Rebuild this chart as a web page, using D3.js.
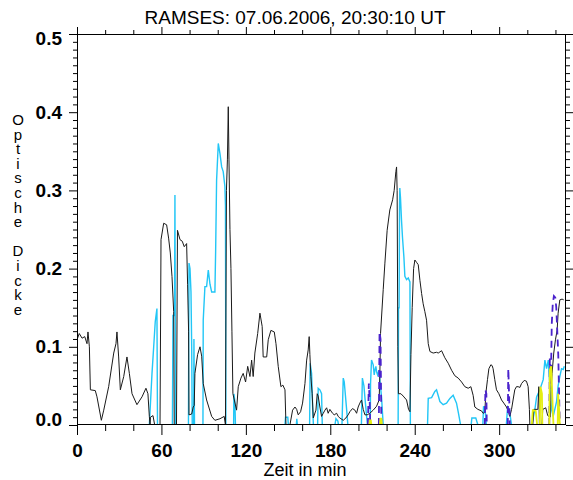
<!DOCTYPE html>
<html>
<head>
<meta charset="utf-8">
<script src="https://cdn.jsdelivr.net/npm/d3@7"></script>
<style>
  html, body { margin: 0; padding: 0; background: #fff; }
  svg { display: block; }
  text { font-family: "Liberation Sans", Arial, sans-serif; fill: #000; }
</style>
</head>
<body>
<svg id="chart" width="573" height="480"></svg>
<script>
// RAMSES optical depth, 07.06.2006 — time in minutes after 20:30:10 UT
const titleText = "RAMSES: 07.06.2006, 20:30:10 UT";
const xLabelText = "Zeit in min";
const yLabelText = "Optische Dicke";
const xMajorTicks = [0, 60, 120, 180, 240, 300];
const yMajorTicks = [0.0, 0.1, 0.2, 0.3, 0.4, 0.5];
const xDomain = [0, 347.5];
const yDomain = [0, 0.5];

// main channel [minute, optical depth]
const seriesBlack = [
  [0,0.109],[1.6,0.117],[3.6,0.111],[5.5,0.113],[7.1,0.104],[7.8,0.119],[8.8,0.100],[9.5,0.045],
  [13.0,0.044],[14.2,0.036],[17.3,0.006],[19.0,0.019],[22.5,0.049],[26.1,0.092],[27.7,0.104],
  [28.4,0.119],[29.6,0.087],[30.8,0.045],[33.2,0.062],[35.5,0.087],[37.2,0.066],[39.1,0.040],
  [42.6,0.026],[46.2,0.036],[49.0,0.047],[50.4,0.040],[51.4,0.011],[51.9,0],[52.2,0.010],
  [54.0,0.012],[55.2,0],[59.0,0],[59.7,0.237],[61.6,0.258],[63.7,0.256],[65.1,0.239],[66.3,0.220],
  [67.5,0.190],[68.7,0.145],[69.1,0],[70.7,0],[71.4,0.249],[73.2,0.237],[74.8,0.235],[76.2,0.228],
  [77.9,0.232],[78.6,0.180],[79.3,0.120],[79.6,0.013],[81.5,0.014],[82.6,0.023],[83.3,0.025],
  [83.8,0.066],[85.7,0.090],[87.4,0.100],[88.6,0.088],[89.7,0.053],[92.1,0.032],[95.7,0.011],
  [98.0,0.006],[101.6,0.008],[104.6,0.011],[105.5,0],[106.2,0.300],[106.9,0.340],[107.5,0.407],
  [108.0,0.340],[108.7,0.250],[109.4,0.200],[110.1,0.120],[110.8,0.040],[113.4,0.019],[114.6,0.049],
  [116.5,0.060],[118.1,0.066],[119.8,0.055],[121.3,0.075],[122.9,0.062],[124.1,0.083],[125.2,0.062],
  [126.4,0.092],[128.4,0.117],[130.0,0.143],[131.6,0.126],[132.3,0.087],[134.8,0.087],[135.9,0.109],
  [137.8,0.121],[140.2,0.119],[141.4,0.104],[143.0,0.075],[144.9,0.049],[146.3,0.051],[147.8,0.045],
  [148.5,0],[151.3,0],[153.2,0.019],[154.9,0.023],[156.1,0.020],[157.2,0.013],[158.9,0.017],
  [160.3,0.028],[162.0,0.053],[163.2,0.083],[164.3,0.096],[165.0,0.113],[165.5,0.090],[166.2,0.062],
  [167.1,0.040],[167.9,0.009],[169.8,0.019],[170.7,0.040],[171.4,0.037],[172.6,0.023],[173.8,0.011],
  [175.0,0.015],[176.2,0.019],[177.4,0.022],[178.5,0.015],[179.7,0.020],[181.6,0.015],[182.8,0.013],
  [184.5,0.015],[185.6,0.011],[186.8,0.009],[189.2,0.006],[191.1,0.009],[192.7,0.013],[193.9,0.017],
  [195.8,0.021],[197.5,0.019],[198.7,0.015],[199.8,0.023],[201.0,0.028],[202.2,0.032],[203.4,0.020],
  [204.6,0.013],[206.2,0.013],[208.1,0.015],[210.5,0.019],[212.9,0.024],[214.7,0.032],[215.2,0.062],
  [215.7,0.117],[217.6,0.173],[218.8,0.207],[220.4,0.249],[222.3,0.275],[224.3,0.288],[225.4,0.300],
  [226.6,0.324],[227.1,0.330],[227.5,0.300],[228.0,0.100],[228.4,0.040],[230.2,0.040],[231.8,0.037],
  [234.2,0.032],[235.6,0.020],[236.6,0.017],[237.3,0.090],[238.2,0.150],[239.2,0.200],[240.1,0.211],
  [241.3,0.208],[242.5,0.205],[243.7,0.185],[244.9,0.168],[246.0,0.155],[247.2,0.145],[248.4,0.134],
  [249.6,0.104],[250.8,0.094],[253.1,0.092],[255.5,0.093],[256.7,0.092],[259.1,0.095],[261.4,0.086],
  [263.8,0.079],[266.2,0.070],[268.5,0.063],[270.9,0.060],[273.3,0.055],[275.6,0.049],[278.0,0.047],
  [279.9,0.049],[281.5,0.038],[282.7,0.023],[284.9,0.020],[287.5,0.018],[288.6,0.015],[289.8,0.016],
  [290.5,0.040],[291.7,0.058],[292.7,0.072],[294.1,0.077],[295.0,0.076],[295.7,0.072],[296.9,0.058],
  [298.1,0.045],[299.8,0.040],[301.7,0.032],[303.3,0.028],[305.2,0.023],[306.4,0.018],[307.6,0.011],
  [308.8,0.020],[309.9,0.032],[311.1,0.045],[312.3,0.049],[313.5,0.049],[314.7,0.048],[315.9,0.053],
  [317.8,0.057],[319.4,0.056],[320.6,0.049],[321.5,0.020],[321.8,0],[323.9,0],[324.6,0.020],
  [327.5,0.020],[328.2,0.049],[328.6,0],[330.4,0],[331.0,0.020],[333.1,0.022],[334.5,0.012],
  [336.3,0.010],[336.9,0.045],[337.6,0.066],[338.8,0.092],[340.0,0.109],[341.2,0.121],[341.9,0.143],
  [343.1,0.160],[344.7,0.161],[345.9,0.160]
];

// second channel, light blue
const seriesCyan = [
  [51.4,0],[53.3,0.066],[54.5,0.100],[55.6,0.132],[56.8,0.149],[57.2,0],
  [67.8,0],[68.2,0.140],[69.3,0.140],[69.6,0.294],[70.0,0],
  [79.2,0],[79.6,0.207],[80.3,0.200],[81.0,0.170],[81.5,0.100],[81.9,0],
  [82.9,0],[83.1,0.110],[83.5,0],
  [89.5,0],[89.7,0.134],[90.9,0.177],[92.1,0.177],[93.3,0.198],[94.5,0.180],[95.7,0.170],[98.0,0.170],
  [98.5,0.220],[99.2,0.313],[100.4,0.360],[101.6,0.347],[102.8,0.330],[103.9,0.324],[105.1,0.305],
  [105.5,0.280],[105.8,0],
  [111.3,0],[111.5,0.040],[112.2,0.030],[112.6,0],
  [147.8,0],[148.2,0.010],[149.8,0.010],[150.2,0],
  [155.9,0],[156.2,0.008],[156.6,0],
  [165.3,0],[165.7,0.079],[166.7,0.066],[167.5,0.020],[168.0,0],
  [171.0,0],[171.4,0.047],[172.6,0.045],[173.8,0.040],[174.3,0],
  [183.3,0],[184.0,0.008],[185.4,0.005],[185.8,0],
  [188.3,0],[189.2,0.060],[189.9,0.055],[190.4,0.045],[191.6,0.020],[192.5,0],
  [202.1,0],[202.8,0.060],[203.9,0.050],[204.6,0.035],[206.4,0],
  [208.4,0],[208.6,0.053],[209.3,0.083],[210.5,0.077],[211.2,0.064],[211.7,0.070],[212.4,0.075],
  [212.9,0.068],[213.6,0.064],[214.7,0.070],[215.2,0.058],[216.4,0.036],[217.6,0],
  [228.2,0],[228.5,0.150],[228.9,0.150],[229.2,0.280],[229.4,0.303],[229.9,0.290],[230.6,0.262],
  [231.3,0.240],[232.3,0.215],[233.0,0.190],[234.2,0.186],[235.4,0.188],[236.6,0.183],[236.9,0],
  [249.1,0],[249.6,0.034],[252.0,0.035],[254.3,0.043],[255.5,0.045],[257.9,0.030],[260.2,0.026],
  [262.6,0.028],[265.0,0.034],[267.3,0.038],[269.7,0.028],[271.1,0.015],[272.6,0],
  [280.1,0],[280.6,0.009],[283.4,0.009],[284.9,0],
  [288.4,0],[288.9,0.024],[290.0,0.020],[290.9,0],
  [305.1,0],[306.0,0.023],[307.2,0.020],[308.8,0],
  [323.2,0],[325.4,0.020],[326.6,0.036],[328.9,0.045],[331.3,0.058],[332.5,0.083],[333.7,0.072],
  [334.9,0.083],[336.0,0.050],[337.2,0.020],[338.4,0.011],[340.8,0.030],[341.9,0.050],[343.1,0.062],
  [344.3,0.072],[345.5,0.071],[346.3,0.075]
];

// third channel, dashed violet
const seriesViolet = [
  [206.7,0],[207.4,0.053],[208.0,0.030],[208.4,0],
  [214.5,0],[215.0,0.119],[215.7,0.110],[216.3,0],
  [289.8,0],[290.2,0.045],[290.9,0.040],[291.2,0],
  [306.1,0],[306.5,0.072],[307.2,0.030],[307.6,0],
  [335.6,0],[336.0,0.085],[336.7,0.050],[337.4,0.130],[338.1,0.155],[338.9,0.165],[339.9,0.163],
  [340.6,0.150],[341.3,0.120],[342.0,0.090],[342.7,0.030],[343.1,0]
];

// fourth channel, yellow
const seriesYellow = [
  [207.8,0],[208.1,0.006],[208.8,0.006],[209.2,0],
  [215.2,0],[215.6,0.008],[216.3,0.008],[216.7,0],
  [323.2,0],[323.9,0.019],[326.0,0.018],[327.0,0],
  [328.9,0],[329.3,0.049],[330.4,0.040],[330.7,0],
  [335.6,0],[336.0,0.070],[337.0,0.075],[338.1,0.020],[338.6,0],
  [341.6,0],[341.9,0.040],[342.6,0.020],[343.1,0]
];

const svg = d3.select("#chart");
const plot = { left: 77, right: 566, top: 34, bottom: 425 };

const x = d3.scaleLinear().domain(xDomain).range([plot.left, plot.right]);
const y = d3.scaleLinear().domain(yDomain).range([plot.bottom, plot.top]);

// split a series wherever it rests on zero, so nothing is drawn along the baseline
function runs(series) {
  const out = [];
  let cur = [];
  series.forEach((p, i) => {
    const prev = series[i - 1];
    if (prev && prev[1] === 0 && p[1] === 0) {
      if (cur.length > 1) out.push(cur);
      cur = [p];
    } else {
      cur.push(p);
    }
  });
  if (cur.length > 1) out.push(cur);
  return out;
}

const line = d3.line().x(d => x(d[0])).y(d => y(d[1]));
svg.append("clipPath").attr("id", "plotclip")
  .append("rect").attr("x", plot.left).attr("y", plot.top)
  .attr("width", plot.right - plot.left).attr("height", plot.bottom - plot.top);

const layer = svg.append("g").attr("clip-path", "url(#plotclip)");

function drawSeries(series, color, width, dash) {
  layer.append("g").selectAll("path").data(runs(series)).join("path")
    .attr("d", line)
    .attr("fill", "none")
    .attr("stroke", color)
    .attr("stroke-width", width)
    .attr("stroke-dasharray", dash || null)
    .attr("stroke-linejoin", "miter");
}

drawSeries(seriesCyan, "#22c6f6", 1.4);
drawSeries(seriesBlack, "#1a1a1a", 1.0);
drawSeries(seriesViolet, "#4a22cc", 1.8, "7,5");
drawSeries(seriesYellow, "#e4ee10", 1.8);

// frame
svg.append("rect")
  .attr("x", plot.left + 0.5).attr("y", plot.top + 0.5)
  .attr("width", plot.right - plot.left - 1).attr("height", plot.bottom - plot.top - 1)
  .attr("fill", "none").attr("stroke", "#000").attr("stroke-width", 1);

const xMinor = d3.range(20, xDomain[1], 20).filter(v => v % 60 !== 0);
const yMinor = d3.range(1, 50).map(v => v / 100).filter(v => Math.round(v * 100) % 10 !== 0);

function styleAxis(g) {
  g.select(".domain").remove();
  g.selectAll(".tick line").attr("stroke", "#000");
}

// bottom axis with labels
svg.append("g").attr("transform", `translate(0,${plot.bottom})`)
  .call(d3.axisBottom(x).tickValues(xMajorTicks).tickSize(10).tickPadding(9).tickFormat(d3.format("d")))
  .call(styleAxis)
  .call(g => g.selectAll("text").attr("font-size", 19).attr("font-weight", "bold")
    .attr("font-family", "Liberation Sans, Arial, sans-serif"));
svg.append("g").attr("transform", `translate(0,${plot.bottom})`)
  .call(d3.axisBottom(x).tickValues(xMinor).tickSize(6).tickFormat(""))
  .call(styleAxis);

// top axis, ticks only
svg.append("g").attr("transform", `translate(0,${plot.top})`)
  .call(d3.axisTop(x).tickValues(xMajorTicks).tickSize(7).tickFormat(""))
  .call(styleAxis);
svg.append("g").attr("transform", `translate(0,${plot.top})`)
  .call(d3.axisTop(x).tickValues(xMinor).tickSize(4).tickFormat(""))
  .call(styleAxis);

// left axis with labels; end labels kept inside the frame height
svg.append("g").attr("transform", `translate(${plot.left},0)`)
  .call(d3.axisLeft(y).tickValues(yMajorTicks).tickSize(8).tickPadding(7).tickFormat(d3.format(".1f")))
  .call(styleAxis)
  .call(g => g.selectAll("text").attr("font-size", 19).attr("font-weight", "bold")
    .attr("font-family", "Liberation Sans, Arial, sans-serif")
    .attr("y", d => d === 0.5 ? 4 : d === 0 ? -6 : 0));
svg.append("g").attr("transform", `translate(${plot.left},0)`)
  .call(d3.axisLeft(y).tickValues(yMinor).tickSize(4).tickFormat(""))
  .call(styleAxis);

// right axis, ticks only
svg.append("g").attr("transform", `translate(${plot.right},0)`)
  .call(d3.axisRight(y).tickValues(yMajorTicks).tickSize(7).tickFormat(""))
  .call(styleAxis);
svg.append("g").attr("transform", `translate(${plot.right},0)`)
  .call(d3.axisRight(y).tickValues(yMinor).tickSize(4).tickFormat(""))
  .call(styleAxis);

// title
svg.append("text")
  .attr("x", 295).attr("y", 24)
  .attr("text-anchor", "middle")
  .attr("font-size", 19)
  .text(titleText);

// x label
svg.append("text")
  .attr("x", 305).attr("y", 476)
  .attr("text-anchor", "middle")
  .attr("font-size", 18)
  .text(xLabelText);

// y label, letters stacked upright
svg.append("text")
  .attr("x", 18).attr("y", 111)
  .attr("font-size", 15)
  .style("writing-mode", "vertical-rl")
  .style("text-orientation", "upright")
  .style("letter-spacing", "-2.4px")
  .text(yLabelText);
</script>
</body>
</html>
